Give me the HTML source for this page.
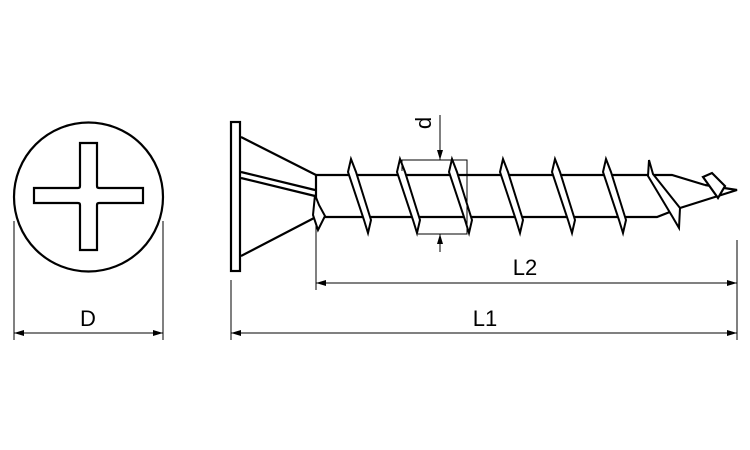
<!DOCTYPE html>
<html><head><style>html,body{margin:0;padding:0;background:#fff}svg{display:block}</style></head>
<body>
<svg width="750" height="450" viewBox="0 0 750 450" xmlns="http://www.w3.org/2000/svg">
<defs>
<marker id="a" viewBox="0 0 10 6" refX="10" refY="3" markerWidth="10" markerHeight="6" orient="auto-start-reverse" markerUnits="userSpaceOnUse"><path d="M0,0L10,3L0,6z" fill="#000"/></marker>
</defs>
<g fill="none" stroke="#000" stroke-width="2.2" stroke-linejoin="miter">
<circle cx="88.5" cy="197" r="74.5"/>
<path d="M80,143H97V186Q97,188 99,188H143V203H99Q97,203 97,205V250H80V205Q80,203 78,203H34V188H78Q80,188 80,186Z"/>
<rect x="231" y="122" width="9" height="149"/>
<path d="M241,137L316,175M241,256L316,217M241,172L315,190M241,178L315,196M316,175V217"/>
<path d="M316,175H672L705,185M316,217H657L680,208L737,190L705,185"/>
<path d="M703,177L712,173L725,186L718,198Z" fill="#fff"/>
</g>
<g fill="#fff" stroke="#000" stroke-width="2" stroke-linejoin="miter">
<polygon points="315,195 319,205 325,216 318,230 313,215"/>
<polygon points="351,159 356,172 371,220 368,233 364,220 348,172"/>
<polygon points="400,159 405,172 420,220 417,233 413,220 397,172"/>
<polygon points="452,159 457,172 472,220 469,233 465,220 449,172"/>
<polygon points="503,159 508,172 523,220 520,233 516,220 500,172"/>
<polygon points="555,159 560,172 575,220 572,233 568,220 552,172"/>
<polygon points="606,159 611,172 626,220 623,233 619,220 603,172"/>
<polygon points="649,160 653,174 680,208 679,228 672,216 648,176"/>
</g>
<g fill="none" stroke="#000" stroke-width="1">
<path d="M402,171V160H467V234H418"/>
<line x1="440" y1="115" x2="440" y2="160" marker-end="url(#a)"/>
<line x1="440" y1="252" x2="440" y2="234" marker-end="url(#a)"/>
<path d="M14,221V340M163,221V340M231,280V340M737,240V340M316,222V290"/>
<line x1="14" y1="333" x2="163" y2="333" marker-start="url(#a)" marker-end="url(#a)"/>
<line x1="231" y1="333" x2="737" y2="333" marker-start="url(#a)" marker-end="url(#a)"/>
<line x1="316" y1="283" x2="737" y2="283" marker-start="url(#a)" marker-end="url(#a)"/>
</g>
<g font-family="Liberation Sans, sans-serif" font-size="22" fill="#000" text-anchor="middle">
<text x="88" y="326">D</text>
<text x="485" y="326">L1</text>
<text x="525" y="275">L2</text>
<text x="0" y="0" transform="translate(431,123) rotate(-90)">d</text>
</g>
</svg>
</body></html>
